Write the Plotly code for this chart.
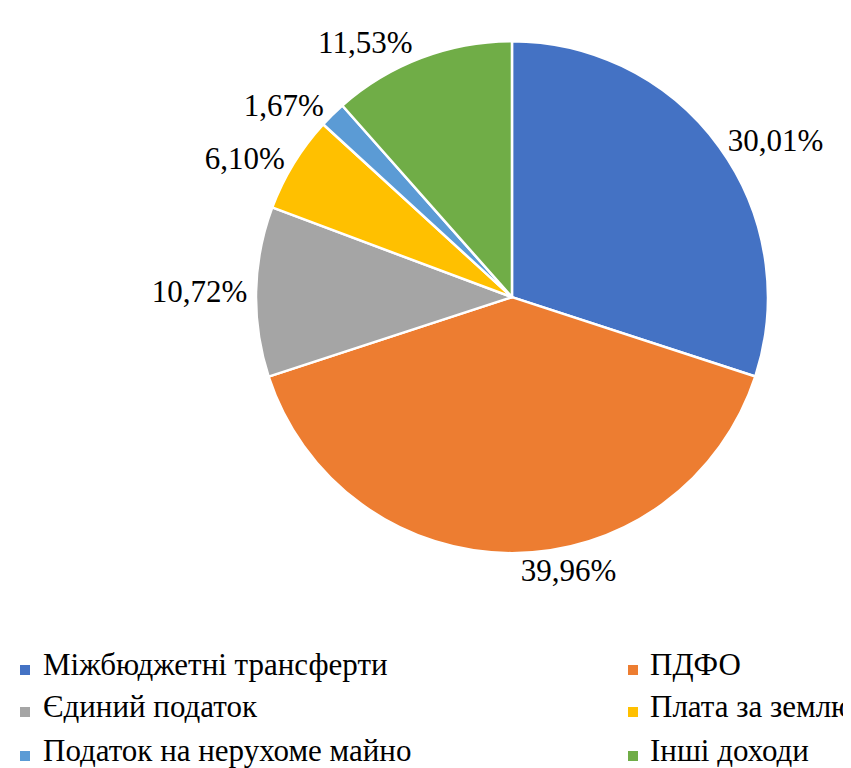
import plotly.graph_objects as go

categories = ["Міжбюджетні трансферти", "ПДФО", "Єдиний податок",
              "Плата за землю", "Податок на нерухоме майно", "Інші доходи"]
shares = [30.01, 39.96, 10.72, 6.10, 1.67, 11.53]
colors = ["#4472C4", "#ED7D31", "#A5A5A5", "#FFC000", "#5B9BD5", "#70AD47"]

FONT = "Liberation Serif"
W, H = 851, 768

fig = go.Figure()
fig.add_trace(go.Pie(
    labels=categories,
    values=shares,
    sort=False,
    direction="clockwise",
    rotation=0,
    marker=dict(colors=colors, line=dict(color="white", width=2.5)),
    textposition="outside",
    texttemplate="%{percent:.2%}",
    textfont=dict(family=FONT, size=31, color="black"),
    automargin=False,
    domain=dict(x=[0.2914, 0.8930], y=[0.290, 0.957]),
    hoverinfo="label+percent",
    showlegend=False,
))

# two-column legend (square swatch + label), laid out in paper coordinates
col_marker_px = [12, 620]
col_text_px = [33, 640]
row_center_px = [662, 704, 748]
annots, shapes = [], []
for i, (name, col) in enumerate(zip(categories, colors)):
    c, r = i % 2, i // 2
    cy = row_center_px[r]
    shapes.append(dict(
        type="rect", xref="paper", yref="paper",
        x0=col_marker_px[c] / W, x1=(col_marker_px[c] + 10) / W,
        y0=1 - (cy + 5) / H, y1=1 - (cy - 5) / H,
        fillcolor=col, line=dict(width=0),
    ))
    annots.append(dict(
        text=name, x=col_text_px[c] / W, y=1 - (cy - 6) / H,
        xref="paper", yref="paper",
        xanchor="left", yanchor="middle", showarrow=False,
        font=dict(family=FONT, size=31, color="black"),
    ))

fig.update_layout(
    width=W, height=H,
    margin=dict(l=0, r=0, t=0, b=0),
    paper_bgcolor="white",
    separators=", ",
    annotations=annots,
    shapes=shapes,
)

fig.write_html("out.html")
